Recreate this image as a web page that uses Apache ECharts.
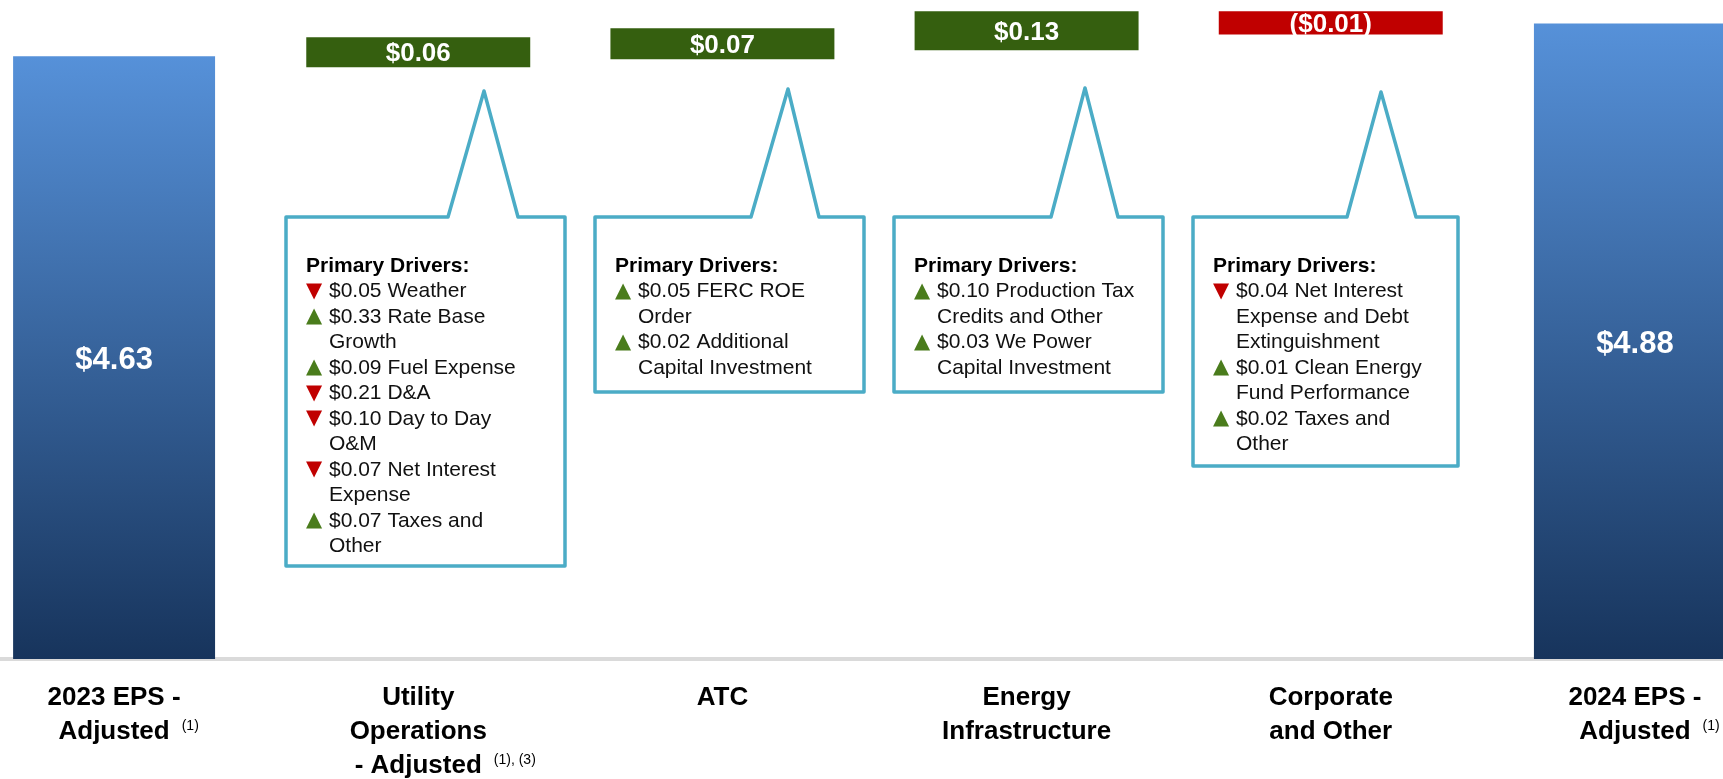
<!DOCTYPE html>
<html>
<head>
<meta charset="utf-8">
<script src="https://cdn.jsdelivr.net/npm/echarts@6.0.0/dist/echarts.min.js"></script>
<style>
  html, body { margin: 0; padding: 0; background: #fff; }
  #main { width: 1723px; height: 779px; }
</style>
</head>
<body>
<div id="main"></div>
<script>
// categories and tick label lines
var categories = ['2023 EPS - Adjusted', 'Utility Operations - Adjusted', 'ATC', 'Energy Infrastructure', 'Corporate and Other', '2024 EPS - Adjusted'];
var tickLines = [['2023 EPS -', 'Adjusted'], ['Utility', 'Operations', '- Adjusted'], ['ATC'], ['Energy', 'Infrastructure'], ['Corporate', 'and Other'], ['2024 EPS -', 'Adjusted']];
var footnotes = ['(1)', '(1), (3)', '', '', '', '(1)'];

// values
var totals = [4.63, '-', '-', '-', '-', 4.88];
var deltas = ['-', 0.06, 0.07, 0.13, -0.01, '-'];

// primary drivers per segment (direction, text lines)
var utilityDrivers = [
  ['down', '$0.05 Weather'],
  ['up', '$0.33 Rate Base', 'Growth'],
  ['up', '$0.09 Fuel Expense'],
  ['down', '$0.21 D&A'],
  ['down', '$0.10 Day to Day', 'O&M'],
  ['down', '$0.07 Net Interest', 'Expense'],
  ['up', '$0.07 Taxes and', 'Other']
];
var atcDrivers = [
  ['up', '$0.05 FERC ROE', 'Order'],
  ['up', '$0.02 Additional', 'Capital Investment']
];
var infraDrivers = [
  ['up', '$0.10 Production Tax', 'Credits and Other'],
  ['up', '$0.03 We Power', 'Capital Investment']
];
var corporateDrivers = [
  ['down', '$0.04 Net Interest', 'Expense and Debt', 'Extinguishment'],
  ['up', '$0.01 Clean Energy', 'Fund Performance'],
  ['up', '$0.02 Taxes and', 'Other']
];

// callout shapes (pixel layout)
var callouts = [
  { drivers: utilityDrivers, left: 286, right: 565, top: 217, bottom: 566, baseL: 448, baseR: 518, apexX: 484, apexY: 91 },
  { drivers: atcDrivers, left: 595, right: 864, top: 217, bottom: 392, baseL: 751, baseR: 819, apexX: 788, apexY: 89 },
  { drivers: infraDrivers, left: 894, right: 1163, top: 217, bottom: 392, baseL: 1051, baseR: 1118, apexX: 1085, apexY: 88 },
  { drivers: corporateDrivers, left: 1193, right: 1458, top: 217, bottom: 466, baseL: 1347, baseR: 1416, apexX: 1381, apexY: 92 }
];

var FONT = 'Liberation Sans, Arial, sans-serif';
var GREEN = '#355F0F';
var RED = '#C00000';
var TEAL = '#4BACC6';

// waterfall steps
var steps = [];
var running = totals[0];
for (var i = 0; i < deltas.length; i++) {
  if (deltas[i] === '-') continue;
  var start = running;
  running = Math.round((running + deltas[i]) * 100) / 100;
  steps.push([i, start, running, deltas[i]]);
}

// footnote widths so the main words stay centred
var ctx = document.createElement('canvas').getContext('2d');
ctx.font = '14px ' + FONT;
var GAP = 12;
var rich = {
  ax: { fontSize: 26, fontWeight: 'bold', color: '#000', lineHeight: 34, fontFamily: FONT },
  gap: { width: GAP, lineHeight: 34 },
  sup: { fontSize: 14, color: '#000', fontFamily: FONT, verticalAlign: 'top', lineHeight: 34, padding: [4, 0, 0, 0] }
};
footnotes.forEach(function (f, idx) {
  if (f) rich['pad' + idx] = { width: GAP + ctx.measureText(f).width, lineHeight: 34 };
});

var myChart = echarts.init(document.getElementById('main'));

var graphics = [];
callouts.forEach(function (c) {
  graphics.push({
    type: 'polygon',
    shape: {
      points: [[c.left, c.top], [c.baseL, c.top], [c.apexX, c.apexY], [c.baseR, c.top],
               [c.right, c.top], [c.right, c.bottom], [c.left, c.bottom]]
    },
    style: { fill: '#fff', stroke: TEAL, lineWidth: 3.5, lineJoin: 'round' },
    z: 5
  });
  var lines = ['{h|Primary Drivers:}'];
  c.drivers.forEach(function (d) {
    lines.push((d[0] === 'up' ? '{up|▲}' : '{dn|▼}') + '{t|' + d[1] + '}');
    for (var k = 2; k < d.length; k++) lines.push('{ind|}{t|' + d[k] + '}');
  });
  graphics.push({
    type: 'text',
    x: c.left + 20,
    y: 253,
    z: 6,
    style: {
      text: lines.join('\n'),
      verticalAlign: 'top',
      fill: '#000',
      font: '21px ' + FONT,
      lineHeight: 25.5,
      rich: {
        h: { fontSize: 21, fontWeight: 'bold', fontFamily: FONT, fill: '#000', lineHeight: 25.5 },
        t: { fontSize: 21, fontFamily: FONT, fill: '#111', lineHeight: 25.5 },
        up: { fontSize: 21, fontFamily: 'DejaVu Sans', fill: '#4A7C1C', width: 23, lineHeight: 25.5 },
        dn: { fontSize: 21, fontFamily: 'DejaVu Sans', fill: RED, width: 23, lineHeight: 25.5 },
        ind: { width: 23, lineHeight: 25.5 }
      }
    }
  });
});

option = {
  backgroundColor: '#fff',
  animation: false,
  grid: {
    left: -38,
    right: -64,
    top: 8,
    bottom: 120,
    containLabel: false,
    outerBoundsMode: 'none'
  },
  xAxis: {
    type: 'category',
    data: categories,
    axisTick: { show: false },
    axisLine: { lineStyle: { color: '#DADADA', width: 4 } },
    axisLabel: {
      interval: 0,
      margin: 22,
      lineHeight: 34,
      formatter: function (value, idx) {
        var out = tickLines[idx].map(function (l) { return '{ax|' + l + '}'; });
        if (footnotes[idx]) {
          var last = out.length - 1;
          out[last] = '{pad' + idx + '|}' + out[last] + '{gap|}{sup|' + footnotes[idx] + '}';
        }
        return out.join('\n');
      },
      rich: rich
    }
  },
  yAxis: {
    type: 'value',
    min: 0,
    max: 5,
    show: false,
    splitLine: { show: false }
  },
  series: [
    {
      name: 'EPS',
      type: 'bar',
      data: totals,
      barWidth: '66.4%',
      itemStyle: {
        color: new echarts.graphic.LinearGradient(0, 0, 0, 1, [
          { offset: 0, color: '#5691D9' },
          { offset: 1, color: '#17345C' }
        ])
      },
      label: {
        show: true,
        position: 'inside',
        offset: [0, 3],
        color: '#fff',
        fontSize: 31,
        fontWeight: 'bold',
        fontFamily: FONT,
        formatter: function (p) { return '$' + p.value.toFixed(2); }
      }
    },
    {
      name: 'Change',
      type: 'custom',
      data: steps,
      encode: { x: 0, y: [1, 2] },
      z: 3,
      renderItem: function (params, api) {
        var idx = api.value(0);
        var p1 = api.coord([idx, api.value(1)]);
        var p2 = api.coord([idx, api.value(2)]);
        var d = api.value(3);
        var w = api.size([1, 0])[0] * 0.664 + 22;
        var top = Math.min(p1[1], p2[1]) - 11;
        var h = Math.abs(p1[1] - p2[1]) + 22;
        var txt = d < 0 ? '($' + Math.abs(d).toFixed(2) + ')' : '$' + d.toFixed(2);
        return {
          type: 'rect',
          shape: { x: p1[0] - w / 2, y: top, width: w, height: h },
          style: { fill: d < 0 ? RED : GREEN },
          textContent: {
            style: { text: txt, fill: '#fff', font: 'bold 26px ' + FONT }
          },
          textConfig: { position: 'inside', offset: [0, 2] }
        };
      }
    }
  ],
  graphic: graphics
};

myChart.setOption(option);
</script>
</body>
</html>
